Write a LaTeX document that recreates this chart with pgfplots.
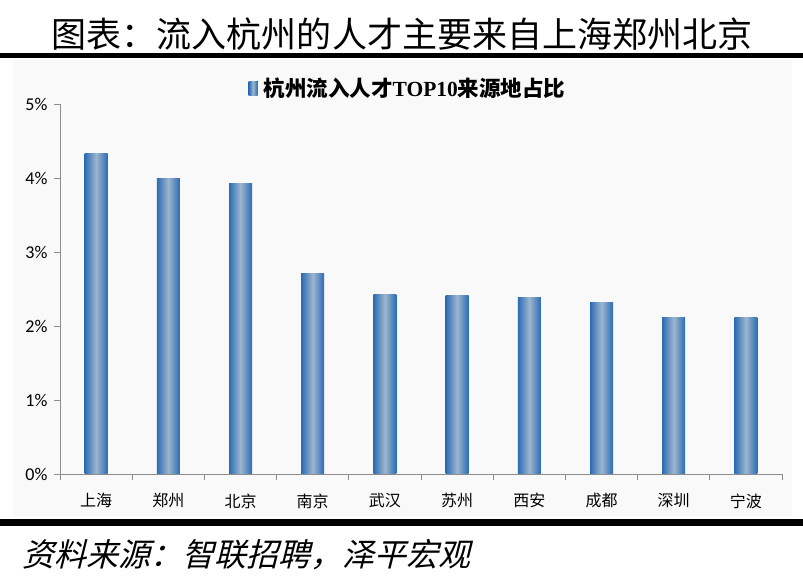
\documentclass[border=0pt]{standalone}
\usepackage{pgfplots}
\pgfplotsset{compat=1.18}
\usepackage{fontspec}
\setmainfont{Carlito}
\newfontfamily\cjk{Noto Sans CJK SC}
\newfontfamily\cjkit[FakeSlant=0.25]{Noto Sans CJK SC}
\newfontfamily\serif{Liberation Serif}
\definecolor{barblue}{HTML}{2C6BB3}
\definecolor{barlight}{HTML}{9DB6CE}
\definecolor{chartbg}{HTML}{F9F9F9}
\definecolor{axisgray}{HTML}{8C8C8C}
\pgfplotsset{gbar/.style={ybar, bar width=23bp, draw=none, left color=barblue, right color=barblue, middle color=barlight}}
\begin{document}
\begin{tikzpicture}[x=1bp,y=1bp]
\path[use as bounding box] (0,0) rectangle (803,585);
\fill[chartbg] (13,69) rectangle (792,525);
\fill[black] (0,527) rectangle (803,532);
\fill[black] (0,59) rectangle (803,66);
\node[font=\cjk\fontsize{35bp}{40bp}\selectfont, inner sep=0pt] at (402,551) {图表：流入杭州的人才主要来自上海郑州北京};
\node[font=\cjkit\fontsize{32bp}{38bp}\selectfont, inner sep=0pt, anchor=west] at (22,30) {资料来源：智联招聘，泽平宏观};
\begin{axis}[
  at={(60bp,111bp)}, anchor=south west,
  scale only axis, width=722bp, height=370bp,
  xmin=-0.5, xmax=9.5, ymin=0, ymax=5,
  axis x line*=bottom, axis y line*=left,
  axis line style={axisgray, line width=0.8bp},
  tick align=outside,
  major tick length=6bp, minor tick length=6bp,
  ytick={0,1,2,3,4,5},
  yticklabels={0\%,1\%,2\%,3\%,4\%,5\%},
  yticklabel style={font=\fontsize{18bp}{20bp}\selectfont, xshift=-3bp},
  y tick style={axisgray, line width=0.8bp},
  xtick={0,...,9},
  xticklabels={上海,郑州,北京,南京,武汉,苏州,西安,成都,深圳,宁波},
  xticklabel style={font=\cjk\fontsize{16bp}{19bp}\selectfont, yshift=-10bp},
  minor xtick={-0.5,0.5,...,9.5},
  every major x tick/.append style={draw=none},
  every minor x tick/.append style={draw=axisgray, line width=0.8bp},
  legend style={draw=none, fill=none, at={(0.482,1.043)}, anchor=center,
    font=\fontsize{21.5bp}{25bp}\selectfont, inner sep=0pt},
  legend image code/.code={\fill[left color=barblue,right color=barblue,middle color=barlight] (0bp,-7bp) rectangle (9bp,7bp); \path (13bp,0);},
]
\addplot[gbar] coordinates {(0,4.33)};
\addlegendentry{{\cjk\bfseries 杭州流入人才}{\serif\bfseries TOP10}{\cjk\bfseries 来源地占比}}
\addplot[gbar, forget plot] coordinates {(1,3.99)};
\addplot[gbar, forget plot] coordinates {(2,3.93)};
\addplot[gbar, forget plot] coordinates {(3,2.71)};
\addplot[gbar, forget plot] coordinates {(4,2.42)};
\addplot[gbar, forget plot] coordinates {(5,2.41)};
\addplot[gbar, forget plot] coordinates {(6,2.38)};
\addplot[gbar, forget plot] coordinates {(7,2.32)};
\addplot[gbar, forget plot] coordinates {(8,2.12)};
\addplot[gbar, forget plot] coordinates {(9,2.11)};
\end{axis}
\end{tikzpicture}
\end{document}
